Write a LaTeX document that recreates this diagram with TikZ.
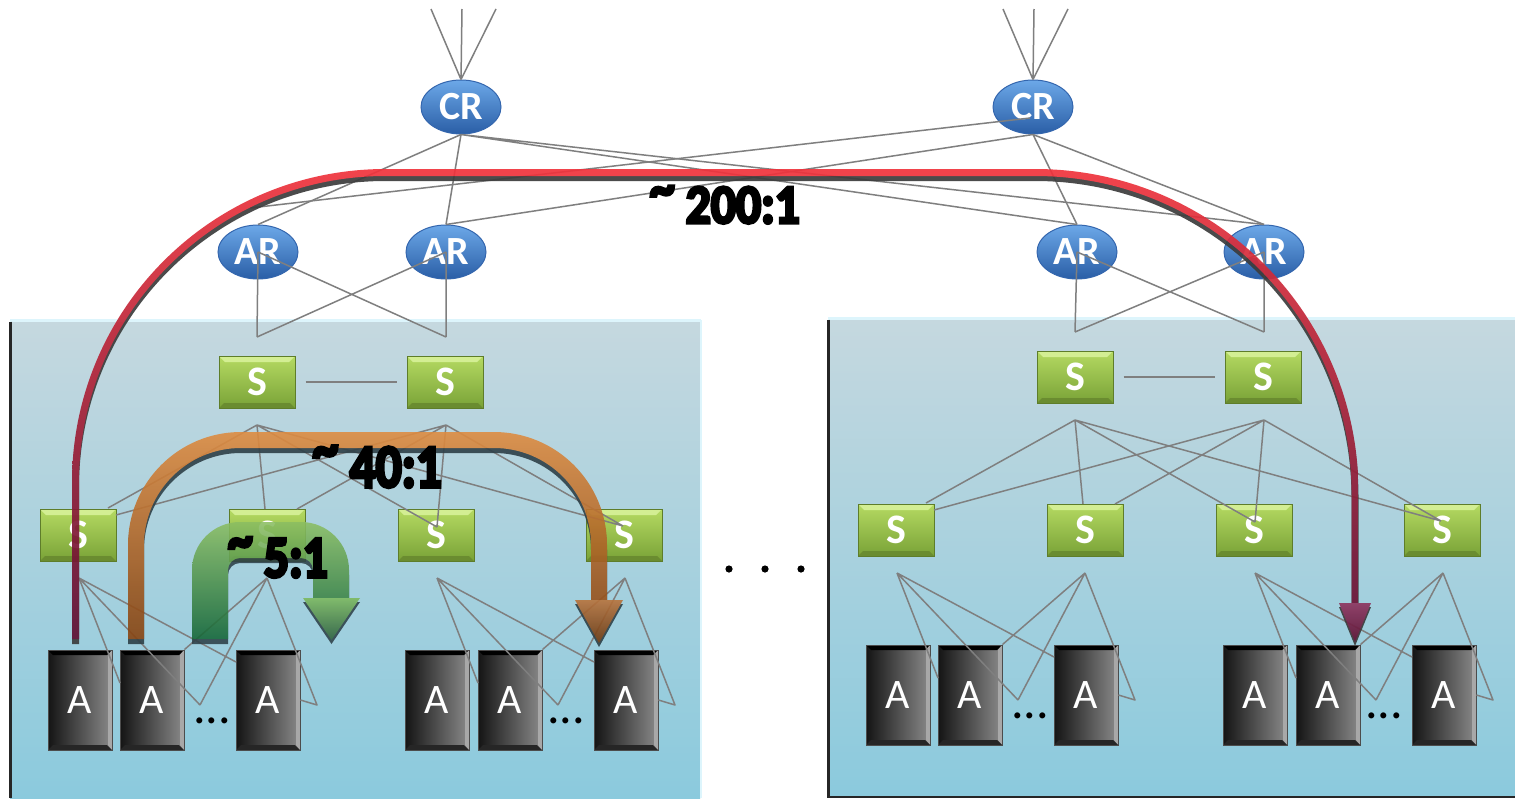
\documentclass[tikz,border=0pt]{standalone}
\usepackage{fontspec}
\usepackage{graphicx}
\setmainfont{Carlito}
\newfontfamily\ratiofont{Carlito}[BoldFeatures={FakeBold=6}]
\usetikzlibrary{shapes.geometric}

\definecolor{linkgray}{HTML}{7F7F7F}
\definecolor{podtop}{HTML}{C5D8DF}
\definecolor{podbot}{HTML}{8BCADD}
\definecolor{podlight}{HTML}{DDF5FC}
\definecolor{poddark}{HTML}{262626}
\definecolor{crtop}{HTML}{6CA8E8}
\definecolor{crbot}{HTML}{2A5EA6}
\definecolor{crline}{HTML}{3466AE}
\definecolor{stop}{HTML}{B5DA62}
\definecolor{sbot}{HTML}{79A237}
\definecolor{sline}{HTML}{5E7D2A}
\definecolor{shigh}{HTML}{D3EE93}
\definecolor{sdark}{HTML}{6A8C30}
\definecolor{aleft}{HTML}{141414}
\definecolor{aright}{HTML}{8A8A8A}
\definecolor{ahigh}{HTML}{A8A8A8}
\definecolor{redtop}{HTML}{F0333C}
\definecolor{redmid}{HTML}{C01A36}
\definecolor{redbot}{HTML}{5E1034}
\definecolor{redheadtop}{HTML}{8E3660}
\definecolor{redheadbot}{HTML}{5A0F30}
\definecolor{orgtop}{HTML}{DD8C42}
\definecolor{orgmid}{HTML}{B8661F}
\definecolor{orgbot}{HTML}{864412}
\definecolor{orgheadtop}{HTML}{B8733C}
\definecolor{orgheadbot}{HTML}{6A360E}
\definecolor{grntop}{HTML}{8BBE62}
\definecolor{grnmid}{HTML}{4C8A44}
\definecolor{grnbot}{HTML}{136536}
\definecolor{grnheadtop}{HTML}{7CB85C}
\definecolor{grnheadbot}{HTML}{2A5C3A}
\definecolor{shadowgray}{HTML}{3C3C3C}
\definecolor{shadowslate}{HTML}{2E4048}

% thick band: up from (xL,yL), rounded over the top at y=T, down to (xR,yR)
% #1 xL, #2 xR, #3 T, #4 left radius, #5 right radius, #6 half width, #7 yL, #8 yR
\newcommand\bandpath[8]{%
 ({#1-#6},#7) -- ({#1-#6},{#3+#4})
 .. controls ({#1-#6},{#3+#4-0.5523*(#4+#6)}) and ({#1+#4-0.5523*(#4+#6)},{#3-#6}) .. ({#1+#4},{#3-#6})
 -- ({#2-#5},{#3-#6})
 .. controls ({#2-#5+0.5523*(#5+#6)},{#3-#6}) and ({#2+#6},{#3+#5-0.5523*(#5+#6)}) .. ({#2+#6},{#3+#5})
 -- ({#2+#6},#8) -- ({#2-#6},#8) -- ({#2-#6},{#3+#5})
 .. controls ({#2-#6},{#3+#5-0.5523*(#5-#6)}) and ({#2-#5+0.5523*(#5-#6)},{#3+#6}) .. ({#2-#5},{#3+#6})
 -- ({#1+#4},{#3+#6})
 .. controls ({#1+#4-0.5523*(#4-#6)},{#3+#6}) and ({#1+#6},{#3+#4-0.5523*(#4-#6)}) .. ({#1+#6},{#3+#4})
 -- ({#1+#6},#7) -- cycle}

\tikzset{
 link/.style={draw=linkgray, line width=1.5pt, line join=round},
 router/.style={ellipse, minimum width=80pt, minimum height=54pt, inner sep=0pt,
   top color=crtop, bottom color=crbot, draw=crline, line width=1pt,
   text=white, font=\bfseries\fontsize{40}{40}\selectfont},
 switch/.style={rectangle, minimum width=76pt, minimum height=52pt, inner sep=0pt,
   top color=stop, bottom color=sbot, draw=sline, line width=1pt,
   text=white, font=\bfseries\fontsize{42}{42}\selectfont,
   path picture={
     \fill[shigh] (path picture bounding box.north west) -- (path picture bounding box.north east)
       -- ([shift={(-6pt,-6pt)}]path picture bounding box.north east)
       -- ([shift={(6pt,-6pt)}]path picture bounding box.north west) -- cycle;
     \fill[sdark] (path picture bounding box.south west) -- (path picture bounding box.south east)
       -- ([shift={(-5pt,5pt)}]path picture bounding box.south east)
       -- ([shift={(5pt,5pt)}]path picture bounding box.south west) -- cycle;}},
 server/.style={rectangle, minimum width=64pt, minimum height=100pt, inner sep=0pt,
   left color=aleft, right color=aright, draw=black!70, line width=0.8pt,
   text=white, font=\fontsize{42}{42}\selectfont,
   path picture={
     \fill[black] (path picture bounding box.north west) -- (path picture bounding box.north east)
       -- ([shift={(-5pt,-5pt)}]path picture bounding box.north east)
       -- ([shift={(5pt,-5pt)}]path picture bounding box.north west) -- cycle;
     \fill[ahigh] (path picture bounding box.north east) -- (path picture bounding box.south east)
       -- ([shift={(-4pt,5pt)}]path picture bounding box.south east)
       -- ([shift={(-4pt,-5pt)}]path picture bounding box.north east) -- cycle;
     \fill[black!85] (path picture bounding box.south west) -- (path picture bounding box.south east)
       -- ([shift={(-5pt,5pt)}]path picture bounding box.south east)
       -- ([shift={(5pt,5pt)}]path picture bounding box.south west) -- cycle;}},
 more/.style={anchor=base, inner sep=0pt, text=black, font=\fontsize{50}{50}\selectfont},
 ratio/.style={anchor=base east, inner sep=0pt, text=black},
}

% one pod: aggregation pair, four top-of-rack switches, two server groups
\newcommand\pod[1]{%
 \node[switch] (#1s1a) at (257,382) {S};
 \node[switch] (#1s1b) at (445,382) {S};
 \node[switch] (#1s2a) at (78,535) {S};
 \node[switch] (#1s2b) at (267,535) {S};
 \node[switch] (#1s2c) at (436,535) {S};
 \node[switch] (#1s2d) at (624,535) {S};
 \node[server] (#1a1) at (80,700) {A};
 \node[server] (#1a2) at (152,700) {A};
 \node[server] (#1a3) at (268,700) {A};
 \node[server] (#1a4) at (437,700) {A};
 \node[server] (#1a5) at (510,700) {A};
 \node[server] (#1a6) at (626,700) {A};
 \node[more] (#1m1) at (212,723) {...};
 \node[more] (#1m2) at (566,723) {...};
 \coordinate (#1u1) at (257,337);
 \coordinate (#1u2) at (446,337);
 \coordinate (#1q1) at (257,425);
 \coordinate (#1q2) at (446,425);
 \coordinate (#1ea) at (108,508);
 \coordinate (#1eb) at (116,515);
 \coordinate (#1ec) at (265,509);
 \coordinate (#1ed) at (297,509);
 \coordinate (#1ee) at (437,527);
 \coordinate (#1ef) at (623,526);
 \coordinate (#1o1) at (79,578);
 \coordinate (#1o2) at (267,578);
 \coordinate (#1o3) at (437,578);
 \coordinate (#1o4) at (625,578);
 \coordinate (#1v1) at (200,705);
 \coordinate (#1v2) at (317,705);
 \coordinate (#1v3) at (558,705);
 \coordinate (#1v4) at (675,705);
 \coordinate (#1h1) at (120,683);
 \coordinate (#1h2) at (236,662);
 \coordinate (#1h3) at (478,683);
 \coordinate (#1h4) at (594,662);
 \draw[link, shorten <=10pt, shorten >=10pt] (#1s1a) -- (#1s1b);
 \draw[link] (#1q1) -- (#1ea) (#1q1) -- (#1ec) (#1q1) -- (#1ee) (#1q1) -- (#1ef)
   (#1q2) -- (#1eb) (#1q2) -- (#1ed) (#1q2) -- (#1ee) (#1q2) -- (#1ef);
 \draw[link] (#1o1) -- (#1h1) (#1o1) -- (#1v1) (#1o1) -- (#1h2)
   (#1o2) -- (#1a2.north east) (#1o2) -- (#1v1) (#1o2) -- (#1v2) -- (#1a3.east);
 \draw[link] (#1o3) -- (#1h3) (#1o3) -- (#1v3) (#1o3) -- (#1h4)
   (#1o4) -- (#1a5.north east) (#1o4) -- (#1v3) (#1o4) -- (#1v4) -- (#1a6.east);
}

\begin{document}
\begin{tikzpicture}[x=1pt,y=-1pt]
\useasboundingbox (0,0) rectangle (1515,798);
\fill[white] (0,0) rectangle (1515,798);

% pod backgrounds
\shade[top color=podtop, bottom color=podbot] (10,321) rectangle (700,798);
\draw[podlight, line width=3pt] (10,320) -- (701,320);
\draw[podlight, line width=2pt] (700.5,320) -- (700.5,798);
\draw[poddark, line width=2.5pt] (10.5,321.5) -- (10.5,798);
\shade[top color=podtop, bottom color=podbot] (828,319) rectangle (1515,797);
\draw[podlight, line width=3pt] (828,318) -- (1515,318);
\draw[poddark, line width=2.5pt] (828.5,319.5) -- (828.5,796.8) -- (1515,796.8);

% pods
\pod{L}
\begin{scope}[shift={(818,-5)}]
 \pod{R}
\end{scope}

% core and access routers
\node[router] (cr1) at (461,107) {CR};
\node[router] (cr2) at (1033,107) {CR};
\node[router] (ar1) at (258,252) {AR};
\node[router] (ar2) at (446,252) {AR};
\node[router] (ar3) at (1077,252) {AR};
\node[router] (ar4) at (1264,252) {AR};

\coordinate (up1) at (431,9);
\coordinate (up2) at (462,9);
\coordinate (up3) at (496,9);
\coordinate (up4) at (1003,9);
\coordinate (up5) at (1034,9);
\coordinate (up6) at (1068,9);
\coordinate (cr2in) at (1030,118);
\coordinate (ar1top) at (250,208);

\draw[link] (cr1.north) -- (up1) (cr1.north) -- (up2) (cr1.north) -- (up3);
\draw[link] (cr2.north) -- (up4) (cr2.north) -- (up5) (cr2.north) -- (up6);
\draw[link] (cr1.south) -- (ar1.north) (cr1.south) -- (ar2.north)
  (cr1.south) -- (ar3.north) (cr1.south) -- (ar4.north);
\draw[link] (cr2in) -- (ar1top) (cr2.south) -- (ar2.north)
  (cr2.south) -- (ar3.north) (cr2.south) -- (ar4.north);
\draw[link] (ar1.center) -- (Lu1) (ar1.center) -- (Lu2)
  (ar2.center) -- (Lu2) (ar2.center) -- (Lu1);
\draw[link] (ar3.center) -- (Ru1) (ar3.center) -- (Ru2)
  (ar4.center) -- (Ru2) (ar4.center) -- (Ru1);

% more pods
\fill (729,569) circle[radius=3.6pt] (765,569) circle[radius=3.6pt] (801,569) circle[radius=3.6pt];

% traffic across the core
\begin{scope}[transparency group, opacity=0.92]
 \fill[shadowgray, shift={(0,5)}] \bandpath{75.5}{1355}{172.5}{310}{320}{3.5}{639}{604};
 \fill[shadowgray, shift={(0,4)}] (1339,603) -- (1371,603) -- (1355,642) -- cycle;
 \shade[top color=redtop, middle color=redmid, bottom color=redbot]
   \bandpath{75.5}{1355}{172.5}{310}{320}{3.5}{639}{604};
 \shade[top color=redheadtop, bottom color=redheadbot] (1339,603) -- (1371,603) -- (1355,642) -- cycle;
\end{scope}

% traffic across the pod
\begin{scope}[transparency group, opacity=0.9]
 \fill[shadowslate, shift={(0,5)}] \bandpath{136}{599}{440}{105}{105}{8}{639}{601};
 \fill[shadowslate, shift={(0,4)}] (575,600) -- (623,600) -- (599,643) -- cycle;
 \shade[top color=orgtop, middle color=orgmid, bottom color=orgbot]
   \bandpath{136}{599}{440}{105}{105}{8}{639}{601};
 \shade[top color=orgheadtop, bottom color=orgheadbot] (575,600) -- (623,600) -- (599,643) -- cycle;
\end{scope}

% traffic within the rack
\begin{scope}[transparency group, opacity=0.88]
 \fill[shadowslate, shift={(0,5)}] \bandpath{210}{331}{540}{30}{30}{18}{639}{599};
 \fill[shadowslate, shift={(0,4)}] (303,598) -- (360,598) -- (331.5,640) -- cycle;
 \shade[top color=grntop, middle color=grnmid, bottom color=grnbot]
   \bandpath{210}{331}{540}{30}{30}{18}{639}{599};
 \shade[top color=grnheadtop, bottom color=grnheadbot] (303,598) -- (360,598) -- (331.5,640) -- cycle;
\end{scope}

% oversubscription ratios
\node[ratio, font=\ratiofont\bfseries\fontsize{55}{55}\selectfont] (r200) at (800,223)
  {\scalebox{0.9}[1]{\raisebox{0.3em}{\textasciitilde} 200:1}};
\node[ratio, font=\ratiofont\bfseries\fontsize{61}{61}\selectfont] (r40) at (442,487)
  {\scalebox{0.84}[1]{\raisebox{0.3em}{\textasciitilde} 40:1}};
\node[ratio, font=\ratiofont\bfseries\fontsize{59}{59}\selectfont] (r5) at (328,577)
  {\scalebox{0.84}[1]{\raisebox{0.3em}{\textasciitilde} 5:1}};
\end{tikzpicture}
\end{document}
